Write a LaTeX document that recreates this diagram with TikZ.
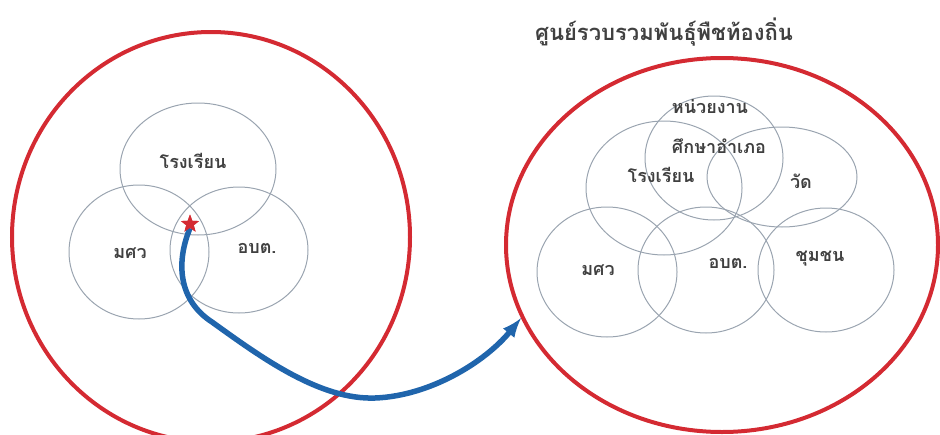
\documentclass[tikz,border=0pt]{standalone}
\usepackage{fontspec}
\newfontfamily\thaifont[Script=Thai]{Loma}
\usetikzlibrary{shapes.geometric}
\definecolor{rouge}{HTML}{D42A32}
\definecolor{bleu}{HTML}{2065AC}
\definecolor{gris}{HTML}{9AA4B0}
\begin{document}
\begin{tikzpicture}[x=1pt,y=-1pt]
		% Styles
		\tikzstyle{fleche}=[->,>=latex,line width=5.5pt,bleu]
		\tikzstyle{cadre}=[ellipse,draw=rouge,line width=4pt,inner sep=0pt]
		\tikzstyle{groupe}=[ellipse,draw=gris,line width=1pt,inner sep=0pt]
		\tikzstyle{etiquette}=[font=\thaifont\bfseries\fontsize{18}{21}\selectfont,text=black!75,inner sep=1pt]
		\tikzstyle{etoile}=[star,star points=5,star point ratio=2.4,fill=rouge,minimum size=19pt,inner sep=0pt]
		\useasboundingbox (0,0) rectangle (940,434);
		% Cadres
		\node[cadre,minimum width=398pt,minimum height=410pt] (gauche) at (211,237) {};
		\node[cadre,minimum width=432pt,minimum height=374pt] (droite) at (722,245) {};
		\node[etiquette,font=\thaifont\bfseries\fontsize{22}{26}\selectfont] (titre) at (664,32) {ศูนย์รวบรวมพันธุ์พืชท้องถิ่น};
		% Groupes a gauche
		\node[groupe,minimum width=156pt,minimum height=132pt] (ecoleG) at (198,169) {};
		\node[groupe,minimum width=140pt,minimum height=134pt] (msvG) at (139,252) {};
		\node[groupe,minimum width=138pt,minimum height=126pt] (obtG) at (239,250) {};
		\node[etiquette] (tEcoleG) at (193,161) {โรงเรียน};
		\node[etiquette] (tMsvG) at (130,253) {มศว};
		\node[etiquette] (tObtG) at (257,248) {อบต.};
		% Groupes a droite
		\node[groupe,minimum width=138pt,minimum height=124pt] (unitD) at (714,158) {};
		\node[groupe,minimum width=156pt,minimum height=134pt] (ecoleD) at (664,188) {};
		\node[groupe,minimum width=150pt,minimum height=100pt] (watD) at (782,177) {};
		\node[groupe,minimum width=140pt,minimum height=130pt] (msvD) at (607,272) {};
		\node[groupe,minimum width=136pt,minimum height=126pt] (obtD) at (706,270) {};
		\node[groupe,minimum width=136pt,minimum height=124pt] (chumD) at (826,270) {};
		\node[etiquette] (tUnitD) at (710,107) {หน่วยงาน};
		\node[etiquette] (tUnitDb) at (719,146) {ศึกษาอำเภอ};
		\node[etiquette] (tEcoleD) at (661,175) {โรงเรียน};
		\node[etiquette] (tWatD) at (801,181) {วัด};
		\node[etiquette] (tMsvD) at (598,270) {มศว};
		\node[etiquette] (tObtD) at (728,263) {อบต.};
		\node[etiquette] (tChumD) at (820,259) {ชุมชน};
		% Fleche
		\node[etoile] (depart) at (190,224) {};
		\draw[fleche] (depart.south) .. controls (176,262) and (178,300) .. (212,322)
			.. controls (262,358) and (320,400) .. (375,398)
			.. controls (430,396) and (485,362) .. (droite.200);
		\node[etoile] at (depart) {};
\end{tikzpicture}
\end{document}
